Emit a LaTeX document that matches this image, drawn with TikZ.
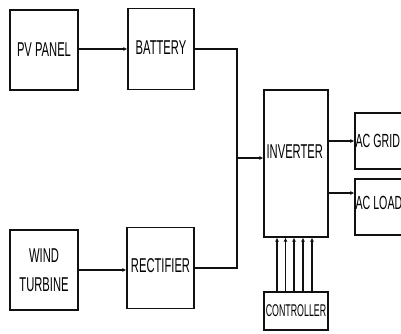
\documentclass[tikz,border=0pt]{standalone}
\usepackage{fontspec}
\newfontfamily\narrowfont{Liberation Sans}[FakeStretch=0.56]
\newfontfamily\ctlfont{Liberation Sans}[FakeStretch=0.52]
\usetikzlibrary{arrows.meta,calc,positioning}
\definecolor{Ink}{HTML}{111111}
\tikzset{
  block/.style={
    draw=Ink, line width=1.2pt, fill=white, inner sep=1pt,
    font=\narrowfont\fontsize{20}{29}\selectfont, align=center
  },
  tag/.style={font=\narrowfont\fontsize{20}{29}\selectfont, inner sep=1pt},
  wire/.style={draw=Ink, line width=1.2pt},
  flow/.style={-{Latex[length=4pt,width=4pt]}, line width=1.2pt, draw=Ink}
}

\begin{document}
\begin{tikzpicture}[x=1pt,y=-1pt]
    \clip (0,0) rectangle (401,334);
    \node[block,minimum width=68,minimum height=80] (pv) at (44,50) {PV PANEL};
    \node[block,minimum width=66,minimum height=81] (bat) at (161,49)
      {\raisebox{3pt}{BATTERY}};
    \node[block,minimum width=68,minimum height=80] (wind) at (44,270)
      {WIND\\TURBINE};
    \node[block,minimum width=67,minimum height=81] (rect) at (160.5,268)
      {\raisebox{4pt}{RECTIFIER}};
    \node[block,minimum width=64,minimum height=147] (inv) at (296,163.5) {};
    \node[tag,anchor=west] at ([xshift=2pt,yshift=12pt]inv.west) {INVERTER};
    \node[block,minimum width=66,minimum height=56] (grid) at (388,141) {};
    \node[tag,anchor=west,font=\narrowfont\fontsize{19}{29}\selectfont]
      at (grid.west) {AC GRID};
    \node[block,minimum width=66,minimum height=56] (load) at (388,207) {};
    \node[tag,anchor=west,font=\narrowfont\fontsize{19}{29}\selectfont]
      at ([yshift=4pt]load.west) {AC LOAD};
    \node[block,minimum width=64,minimum height=38,
      font=\ctlfont\fontsize{17}{18}\selectfont] (ctl) at (296,311) {CONTROLLER};

    % sources to converters
    \draw[flow] (pv.east |- bat) -- (bat.west);
    \draw[flow] (wind.east) -- (wind.east -| rect.west);

    % dc bus into the inverter
    \coordinate (bus) at (237,158);
    \draw[wire] (bat.east) -| (bus);
    \draw[wire] (rect.east) -| (bus);
    \draw[flow] (bus) -- (bus -| inv.west);

    % inverter outputs
    \draw[flow] (inv.east |- grid) -- (grid.west);
    \draw[flow] ([yshift=14pt]inv.east |- load.west) -- ([yshift=14pt]load.west);

    % control signals
    \foreach \x in {277,285.5,294,303,312}
      \draw[flow] (ctl.north -| \x,0) -- (inv.south -| \x,0);
  \end{tikzpicture}
\end{document}
